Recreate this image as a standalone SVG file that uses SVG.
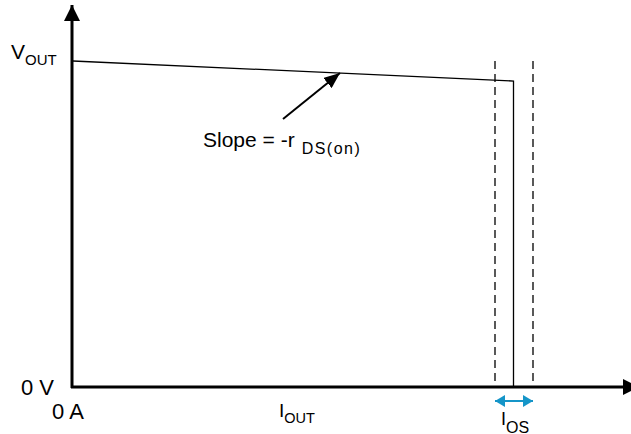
<svg xmlns="http://www.w3.org/2000/svg" width="631" height="434" viewBox="0 0 631 434">
<style>
.t{font-family:"Liberation Sans",Arial,sans-serif;fill:#000}
.ax{stroke:#000;stroke-width:3;fill:none}
.thin{stroke:#000;stroke-width:1.3;fill:none}
.dash{stroke:#000;stroke-width:1.3;stroke-dasharray:8 5;fill:none}
</style>
<defs>
<marker id="blk" markerUnits="userSpaceOnUse" markerWidth="16" markerHeight="16" refX="16" refY="8" orient="auto" viewBox="0 0 16 16">
<path d="M0,0 L16,8 L0,16 Z" fill="#000"/>
</marker>
<marker id="sm" markerUnits="userSpaceOnUse" markerWidth="16" markerHeight="13" refX="16" refY="6.5" orient="auto" viewBox="0 0 16 13">
<path d="M0,0 L16,6.5 L0,13 Z" fill="#000"/>
</marker>
<marker id="bl" markerUnits="userSpaceOnUse" markerWidth="10" markerHeight="12" refX="10" refY="6" orient="auto-start-reverse" viewBox="0 0 10 12">
<path d="M0,0 L10,6 L0,12 Z" fill="#1595c8"/>
</marker>
</defs>
<g id="connectors">
<line class="ax" x1="72" y1="388" x2="72" y2="5" marker-end="url(#blk)"/>
<line class="ax" x1="71" y1="387" x2="639" y2="387" marker-end="url(#blk)"/>
<polyline class="thin" points="73,61 513.5,81 513.5,387"/>
<line class="dash" x1="495" y1="61" x2="495" y2="385"/>
<line class="dash" x1="533" y1="61" x2="533" y2="385"/>
<line x1="283" y1="119" x2="340" y2="73" stroke="#000" stroke-width="2" marker-end="url(#sm)"/>
<line x1="495" y1="401" x2="533" y2="401" stroke="#1595c8" stroke-width="2.2" marker-start="url(#bl)" marker-end="url(#bl)"/>
</g>
<g id="labels">
<text class="t" x="11" y="59" font-size="21">V<tspan font-size="15" dy="6">OUT</tspan></text>
<text class="t" x="21" y="395" font-size="22">0 V</text>
<text class="t" x="52" y="419" font-size="22">0 A</text>
<text class="t" x="279" y="417" font-size="19">I<tspan font-size="14.5" dy="6">OUT</tspan></text>
<text class="t" x="501" y="425" font-size="18">I<tspan font-size="16" dy="7.5">OS</tspan></text>
<text class="t" x="203" y="147" font-size="21">Slope = -r<tspan font-size="16" dy="7" dx="7" letter-spacing="1.5">DS(on)</tspan></text>
</g>
</svg>
